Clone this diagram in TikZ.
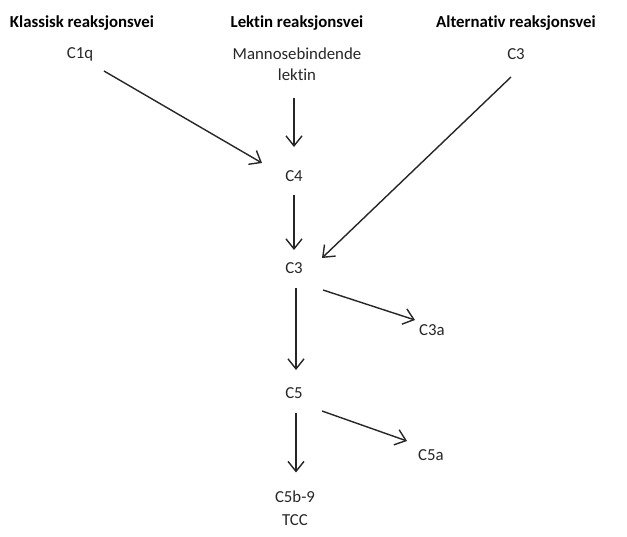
\documentclass[tikz,border=0pt]{standalone}
\usepackage{fontspec}
\setmainfont[Ligatures={NoCommon}]{Carlito}
\usetikzlibrary{arrows.meta}
\begin{document}
\begin{tikzpicture}[x=1pt,y=-1pt,
  lbl/.style={inner sep=0pt, font=\fontsize{16.8}{19}\selectfont, text=black!85},
  hdr/.style={inner sep=0pt, font=\fontsize{16.8}{20}\selectfont\bfseries},
  arr/.style={draw=black!85, line width=1.4pt, -{Straight Barb[length=10pt,width=16pt,line width=1.4pt]}}]
\useasboundingbox (0,0) rectangle (627,536);
\node[hdr] (h1) at (82,23) {Klassisk reaksjonsvei};
\node[hdr] (h2) at (297,23) {Lektin reaksjonsvei};
\node[hdr] (h3) at (516,23) {Alternativ reaksjonsvei};
\node[lbl] (c1q) at (80,54) {C1q};
\node[lbl, align=center] (mbl) at (297,64.5) {Mannosebindende\\[2pt]lektin};
\node[lbl] (c3top) at (516,54) {C3};
\node[lbl] (c4) at (294,176) {C4};
\node[lbl] (c3) at (294,268) {C3};
\node[lbl] (c3a) at (432,330) {C3a};
\node[lbl] (c5) at (294,393) {C5};
\node[lbl] (c5a) at (431,455) {C5a};
\node[lbl, align=center] (mac) at (295,508.5) {C5b-9\\[4pt]TCC};
\draw[arr] ([shift={(24,17)}]c1q.center) -- ([shift={(-32,-13)}]c4.center);
\draw[arr] ([shift={(-3,33)}]mbl.center) -- ([shift={(0,-29)}]c4.center);
\draw[arr] ([shift={(0,19)}]c4.center) -- ([shift={(0,-18)}]c3.center);
\draw[arr] ([shift={(-5,23)}]c3top.center) -- ([shift={(28,-10)}]c3.center);
\draw[arr] ([shift={(2,20)}]c3.center) -- ([shift={(2,-23)}]c5.center);
\draw[arr] ([shift={(29,22)}]c3.center) -- ([shift={(-17,-10)}]c3a.center);
\draw[arr] ([shift={(2,20)}]c5.center) -- ([shift={(1,-36)}]mac.center);
\draw[arr] ([shift={(28,18)}]c5.center) -- ([shift={(-24,-14)}]c5a.center);
\end{tikzpicture}
\end{document}
